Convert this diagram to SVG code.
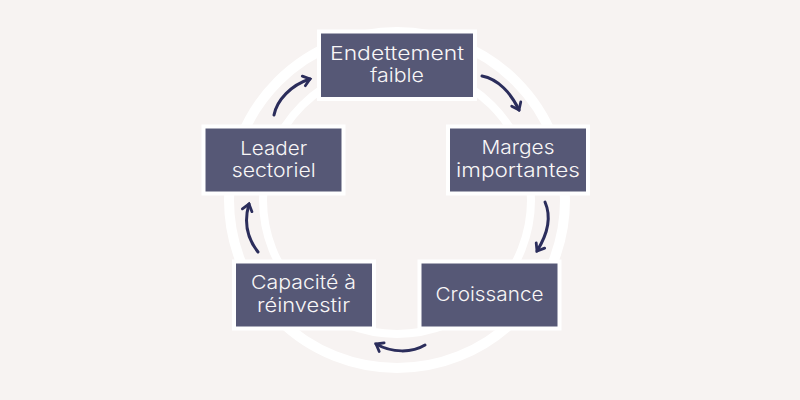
<svg xmlns="http://www.w3.org/2000/svg" width="800" height="400" viewBox="0 0 800 400">
<style>
.ring{fill:none;stroke:#fff}
.box{fill:#535573;fill-opacity:.98;stroke:#fff;stroke-width:4}
.edge{fill:none;stroke:#2b2d5b;stroke-width:3;stroke-linecap:round;marker-end:url(#head)}
text{font-family:"Inter","Liberation Sans",sans-serif;font-size:19px;font-weight:300;fill:#f8f6f6;text-anchor:middle}
</style>
<defs>
<marker id="head" markerUnits="userSpaceOnUse" markerWidth="16" markerHeight="16" refX="11" refY="8" orient="auto">
<path d="M4.500 3L11 8L4.500 13" fill="none" stroke="#2b2d5b" stroke-width="2.800" stroke-linecap="round" stroke-linejoin="miter"/>
</marker>
</defs>
<rect width="800" height="400" fill="#f7f3f2"/>
<circle class="ring" cx="397" cy="200" r="168" stroke-width="10"/>
<circle class="ring" cx="397" cy="200" r="134" stroke-width="8"/>
<g id="connectors">
<path class="edge" d="M482 76C498 79 511 93 519 110"/>
<path class="edge" d="M545 202C552 218 547 235 537 251"/>
<path class="edge" d="M425 345C412 353 392 353 376 344"/>
<path class="edge" d="M258 252C247 238 244 221 249 204"/>
<path class="edge" d="M274 115C277 100 291 85 310 79"/>
</g>
<g id="node-endettement"><rect class="box" x="319" y="31.500" width="156" height="67.500"/><text x="397" y="60" textLength="134" lengthAdjust="spacingAndGlyphs">Endettement</text><text x="397" y="82" textLength="54" lengthAdjust="spacingAndGlyphs">faible</text></g>
<g id="node-marges"><rect class="box" x="448" y="126.500" width="140" height="67"/><text x="518" y="153.500" textLength="73" lengthAdjust="spacingAndGlyphs">Marges</text><text x="518" y="177" textLength="124" lengthAdjust="spacingAndGlyphs">importantes</text></g>
<g id="node-croissance"><rect class="box" x="419.500" y="261.500" width="140" height="67"/><text x="489.500" y="301" textLength="108" lengthAdjust="spacingAndGlyphs">Croissance</text></g>
<g id="node-capacite"><rect class="box" x="234" y="261.500" width="140" height="67"/><text x="303.500" y="289" textLength="105" lengthAdjust="spacingAndGlyphs">Capacité à</text><text x="303.500" y="312" textLength="93" lengthAdjust="spacingAndGlyphs">réinvestir</text></g>
<g id="node-leader"><rect class="box" x="203.500" y="126.500" width="140" height="67"/><text x="273.700" y="154.500" textLength="67" lengthAdjust="spacingAndGlyphs">Leader</text><text x="273.700" y="177" textLength="84" lengthAdjust="spacingAndGlyphs">sectoriel</text></g>
</svg>
